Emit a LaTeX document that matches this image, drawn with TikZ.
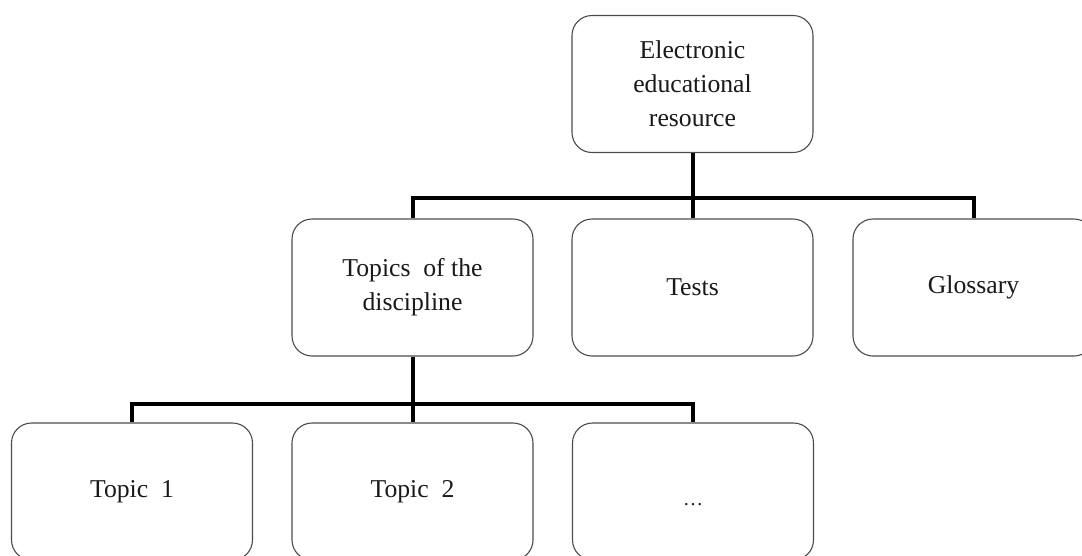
\documentclass[tikz,border=0pt]{standalone}
\usepackage{fontspec}
\setmainfont{Liberation Serif}
\begin{document}
\begin{tikzpicture}[x=1pt,y=-1pt,
  box/.style={draw=black!70, line width=1.1pt, rounded corners=20pt, fill=white,
    minimum width=241pt, minimum height=137pt, inner sep=0pt, align=center,
    text=black!90, font=\fontsize{25.7}{34}\selectfont},
  conn/.style={draw=black, line width=4pt, line join=miter}]
\useasboundingbox (0,0) rectangle (1082,555);
\clip (0,0) rectangle (1082,555);
\fill[white] (0,0) rectangle (1082,555);
% nodes
\node[box] (top) at (692.5,84) {Electronic\\educational\\resource};
\node[box] (topics) at (412.5,287.5) {Topics\ \ of the\\discipline};
\node[box] (tests) at (692.5,287.5) {Tests};
\node[box] (gloss) at (973.5,287.5) {\raisebox{-4pt}{Glossary}};
\node[box] (t1) at (132,491.5) {Topic\ \ 1};
\node[box] (t2) at (412.5,491.5) {Topic\ \ 2};
\node[box, font=\fontsize{20}{22}\selectfont] (dots) at (693,491.5) {\smash{\raisebox{-14pt}{\ldots}}};
% bus coordinates
\coordinate (bus1) at (692.5,198);
\coordinate (bus2) at (412.5,403.5);
% connectors level 1
\draw[conn] (top.south) -- (bus1);
\draw[conn] (bus1) -| (topics.north);
\draw[conn] (bus1) -| (gloss.north);
\draw[conn] (bus1) -- (tests.north);
% connectors level 2
\draw[conn] (topics.south) -- (bus2);
\draw[conn] (bus2) -| (t1.north);
\draw[conn] (bus2) -| (dots.north);
\draw[conn] (bus2) -- (t2.north);
\end{tikzpicture}
\end{document}
